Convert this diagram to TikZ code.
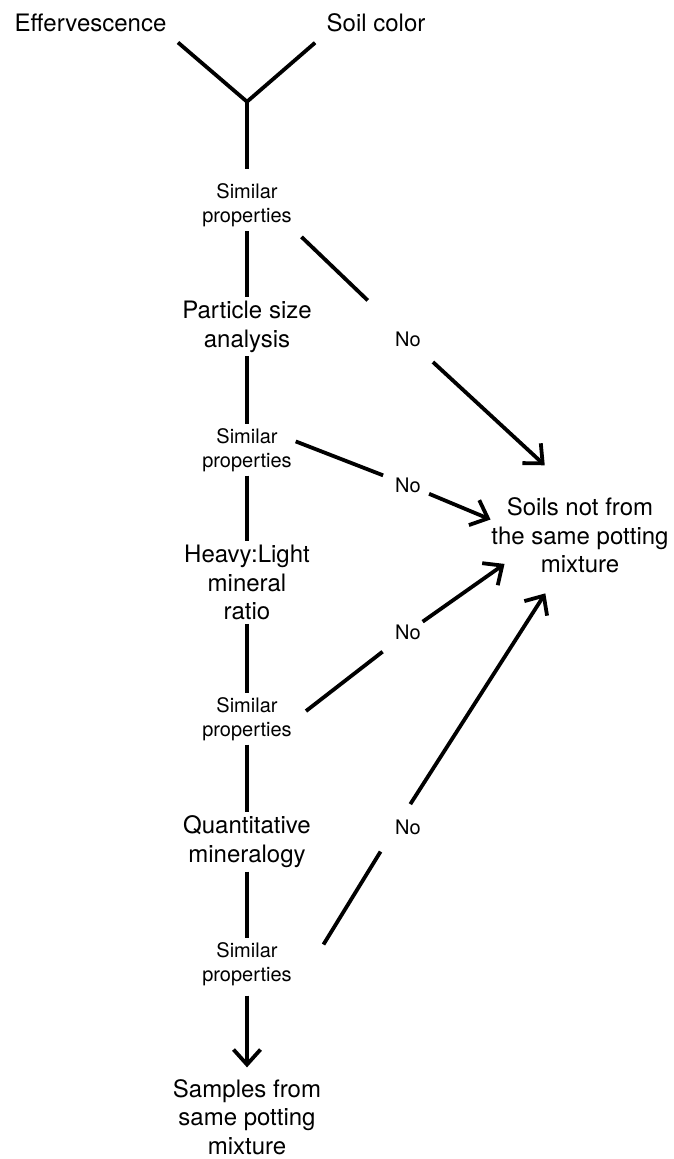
\documentclass[tikz,border=0pt]{standalone}
\usepackage{fontspec}
\setmainfont{TeX Gyre Heros}
\usetikzlibrary{arrows.meta,positioning}

\begin{document}
\begin{tikzpicture}[x=1pt,y=-1pt,line width=3.8pt,
  bigtext/.style={inner sep=0pt,outer sep=4pt,align=center,font=\fontsize{24}{28.5}\selectfont},
  smalltext/.style={inner sep=0pt,outer sep=4pt,align=center,font=\fontsize{20}{24}\selectfont},
  notext/.style={inner sep=0pt,outer sep=0pt,font=\fontsize{20}{24}\selectfont},
  barb/.style={-{Straight Barb[length=15pt,width=27pt]}}]
\useasboundingbox (0,0) rectangle (673,1159);
\node[bigtext] (eff) at (90.5,23) {Effervescence};
\node[bigtext] (soil) at (376,23) {Soil color};
\coordinate (join) at (247,101.7);
\node[smalltext] (sim1) at (247,205.7) {Similar\\properties};
\node[bigtext] (part) at (247,326.7) {Particle size\\analysis};
\node[smalltext] (sim2) at (247,450) {Similar\\properties};
\node[bigtext] (heavy) at (247,582.5) {Heavy:Light\\mineral\\ratio};
\node[smalltext] (sim3) at (247,719) {Similar\\properties};
\node[bigtext] (quant) at (247,841.7) {Quantitative\\mineralogy};
\node[smalltext] (sim4) at (247,964) {Similar\\properties};
\node[bigtext] (samp) at (247,1117) {Samples from\\same potting\\mixture};
\node[bigtext,outer sep=0pt] (soils) at (580,535.5) {Soils not from\\the same potting\\mixture};
\node[notext] (no1) at (408,339) {No};
\node[notext] (no2) at (408,485) {No};
\node[notext] (no3) at (408,632) {No};
\node[notext] (no4) at (408,827.7) {No};
\draw[shorten <=10pt,shorten >=10pt] (eff.south east) -- (join) -- (soil.south west);
\draw[shorten >=11pt] (join) -- (sim1);
\draw (sim1) -- (part);
\draw (part) -- (sim2);
\draw (sim2) -- (heavy);
\draw (heavy) -- (sim3);
\draw (sim3) -- (quant);
\draw (quant) -- (sim4);
\draw[barb,shorten <=6pt,shorten >=8pt] (sim4) -- (samp);
\draw[shorten <=8pt,shorten >=45pt] (sim1.south east) -- (no1);
\draw[barb,shorten <=23pt,shorten >=48pt] (no1) -- (soils.north);
\draw[shorten >=13pt] (sim2.10) -- (no2);
\draw[barb,shorten <=9pt,shorten >=1pt] (no2) -- (soils.170);
\draw[shorten <=13pt,shorten >=20pt] (sim3.east) -- (no3);
\draw[barb,shorten <=5pt,shorten >=-16pt] (no3) -- (soils.south west);
\draw[shorten <=53pt,shorten >=28pt] (sim4.south east) -- (no4.west);
\draw[barb,shorten <=28pt,shorten >=24pt] (no4.west) -- (soils.240);
\end{tikzpicture}
\end{document}
